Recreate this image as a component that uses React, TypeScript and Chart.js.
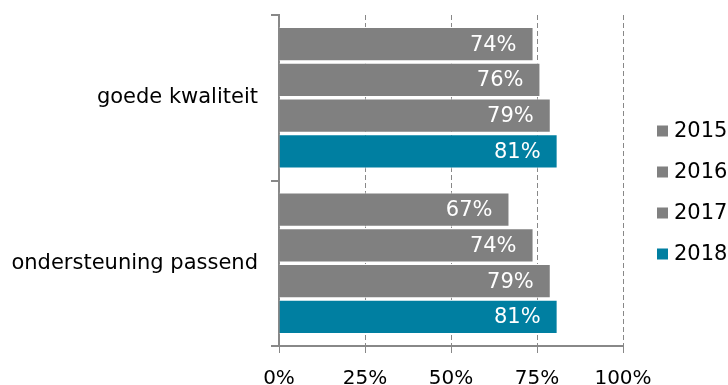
import React, { useEffect, useRef } from 'react';
import { Chart, registerables } from 'chart.js';

Chart.register(...registerables);

const categories = ['goede kwaliteit', 'ondersteuning passend'];
const years = ['2015', '2016', '2017', '2018'];
const v2015 = [74, 67];
const v2016 = [76, 74];
const v2017 = [79, 79];
const v2018 = [81, 81];
const seriesColors = ['#808080', '#808080', '#808080', '#007FA1'];
const xMin = 0;
const xMax = 100;
const xStep = 25;

const FONT = '"DejaVu Sans", Verdana, sans-serif';

export default function App() {
  const ref = useRef<HTMLCanvasElement>(null);

  useEffect(() => {
    if (!ref.current) return;
    const values = [v2015, v2016, v2017, v2018];

    const valueLabels = {
      id: 'valueLabels',
      afterDatasetsDraw(chart: any) {
        const ctx = chart.ctx;
        ctx.save();
        ctx.font = `21px ${FONT}`;
        ctx.fillStyle = '#ffffff';
        ctx.textAlign = 'right';
        ctx.textBaseline = 'middle';
        chart.data.datasets.forEach((ds: any, i: number) => {
          const meta = chart.getDatasetMeta(i);
          meta.data.forEach((el: any, j: number) => {
            ctx.fillText(`${ds.data[j]}%`, el.x - 17, el.y + 1);
          });
        });
        ctx.restore();
      },
    };

    const customLegend = {
      id: 'customLegend',
      afterDraw(chart: any) {
        const { ctx, chartArea } = chart;
        const dsets = chart.data.datasets;
        const n = dsets.length;
        const spacing = 41;
        const startY = chart.height / 2 - (spacing * (n - 1)) / 2;
        ctx.save();
        ctx.font = `21px ${FONT}`;
        ctx.textAlign = 'left';
        ctx.textBaseline = 'middle';
        dsets.forEach((ds: any, i: number) => {
          const y = startY + i * spacing;
          ctx.fillStyle = ds.backgroundColor;
          ctx.fillRect(chartArea.right + 34, y - 5.5, 11, 11);
          ctx.fillStyle = '#000000';
          ctx.fillText(ds.label, chartArea.right + 51, y + 1);
        });
        ctx.restore();
      },
    };

    const chart = new Chart(ref.current, {
      type: 'bar',
      data: {
        labels: categories,
        datasets: years.map((y, i) => ({
          label: y,
          data: values[i],
          backgroundColor: seriesColors[i],
          borderColor: '#ffffff',
          borderWidth: 1,
          barPercentage: 0.96,
          categoryPercentage: 0.865,
        })),
      },
      options: {
        indexAxis: 'y',
        animation: false,
        responsive: false,
        layout: { padding: { top: 15, right: 105, left: 0, bottom: 0 } },
        plugins: {
          legend: { display: false },
          tooltip: { enabled: false },
        },
        scales: {
          x: {
            min: xMin,
            max: xMax,
            afterFit(scale: any) {
              scale.height = 39;
              scale.paddingLeft = 0;
              scale.paddingRight = 0;
            },
            ticks: {
              stepSize: xStep,
              color: '#000000',
              font: { family: FONT, size: 20 },
              padding: 14,
              callback: (v: any) => `${v}%`,
            },
            grid: {
              color: '#888888',
              lineWidth: 1,
              tickLength: 7,
              tickColor: '#888888',
              tickBorderDash: [],
            },
            border: { display: true, color: '#888888', width: 2, dash: [5, 3] },
          },
          y: {
            afterFit(scale: any) {
              scale.width = 279;
              scale.paddingTop = 0;
              scale.paddingBottom = 0;
            },
            ticks: {
              color: '#000000',
              font: { family: FONT, size: 21 },
              padding: 13,
            },
            grid: {
              offset: true,
              drawOnChartArea: false,
              tickLength: 8,
              color: '#888888',
              lineWidth: 2,
            },
            border: { display: true, color: '#888888', width: 2 },
          },
        },
      },
      plugins: [valueLabels, customLegend],
    });

    return () => chart.destroy();
  }, []);

  return (
    <div style={{ position: 'absolute', left: 0, top: 0, width: 728, height: 385, background: '#ffffff' }}>
      <canvas ref={ref} width={728} height={385} />
    </div>
  );
}
